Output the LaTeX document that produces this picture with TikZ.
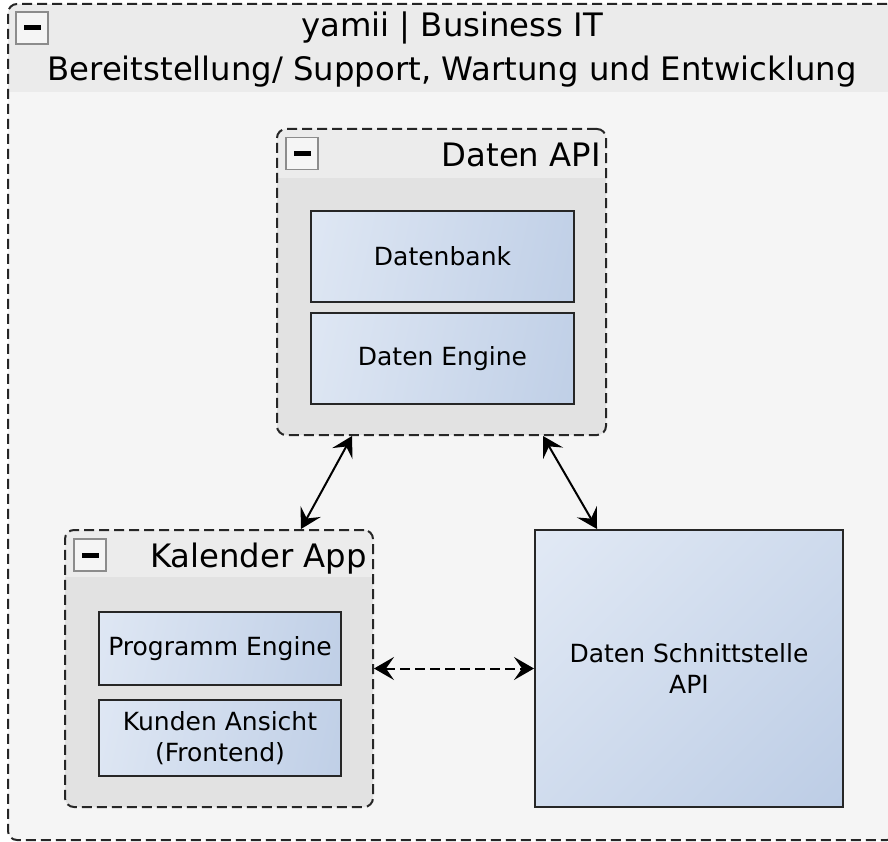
\documentclass[tikz,border=0pt]{standalone}
\usepackage{fontspec}
\setmainfont{DejaVu Sans}
\usepackage{tikz}
\usetikzlibrary{arrows.meta}
\usetikzlibrary{positioning}
\definecolor{outerbody}{HTML}{F5F5F5}
\definecolor{outerhead}{HTML}{EBEBEB}
\definecolor{groupbody}{HTML}{E2E2E2}
\definecolor{grouphead}{HTML}{ECECEC}
\definecolor{nodelight}{HTML}{E9EFF8}
\definecolor{nodedark}{HTML}{B5C7E2}
\pgfdeclareverticalshading[nodelight,nodedark]{itemshade}{100bp}{color(0bp)=(nodedark); color(100bp)=(nodelight)}
\newcommand{\gnode}[3]{\node(#1)[item, minimum width=#2] at #3}

\begin{document}
\begin{tikzpicture}[
        x=1pt, y=-1pt,
        every node/.style={font=\fontsize{25}{31}\selectfont},
        group/.style n args={3}{rectangle, draw=black!85, line width=2pt,
                     dash pattern=on 10pt off 5pt, rounded corners=9pt, fill=#2,
                     path picture={\fill[#3, sharp corners] (path picture bounding box.north west)
                       rectangle ([yshift=-#1]path picture bounding box.north east);}},
        item/.style={rectangle, draw=black!85, line width=2pt, inner sep=0pt,
                     shading=itemshade, shading angle=78, align=center},
        minus/.style={rectangle, draw=black!45, fill=black!4, line width=1.2pt,
                     minimum size=32pt, inner sep=0pt,
                     path picture={\fill[black] ([xshift=-8.5pt,yshift=-2.5pt]path picture bounding box.center)
                       rectangle ([xshift=8.5pt,yshift=2.5pt]path picture bounding box.center);}},
        title/.style={font=\fontsize{32.3}{44}\selectfont, inner sep=0pt},
        conn/.style={line width=2pt, <->},
        >={Stealth[length=20pt, width=23pt, inset=8pt]}
      ]
      \clip (0,0) rectangle (888,842);

      % outer group
      \node(business)[group={88pt}{outerbody}{outerhead}, minimum width=888pt, minimum height=836pt] at (452,422) {};
      \node(businessminus)[minus] at (32,28) {};
      \node(businesstitle)[title, align=center] at (452,50) {yamii | Business IT\\Bereitstellung/ Support, Wartung und Entwicklung};

      % Daten API
      \node(datenapi)[group={49pt}{groupbody}{grouphead}, minimum width=329pt, minimum height=306pt] at (441.5,282) {};
      \node(datenapiminus)[minus] at (302,153.5) {};
      \node(datenapititle)[title, anchor=base east] at (601,167) {Daten API};
      \gnode{datenbank}{263pt}{(442.5,256.5)} [minimum height=91pt] {Datenbank};
      \gnode{datenengine}{263pt}{(442.5,358.5)} [minimum height=91pt] {Daten Engine};

      % Kalender App
      \node(kalender)[group={47pt}{groupbody}{grouphead}, minimum width=308pt, minimum height=277pt] at (219,668.5) {};
      \node(kalenderminus)[minus] at (90,555) {};
      \node(kalendertitle)[title, anchor=base east] at (367,567) {Kalender App};
      \gnode{programm}{242pt}{(220,648.5)} [minimum height=73pt] {Programm Engine};
      \gnode{kunden}{242pt}{(220,738)} [minimum height=76pt] {Kunden Ansicht\\(Frontend)};

      % Schnittstelle
      \gnode{schnittstelle}{308pt}{(689,668.5)} [minimum height=277pt, shading angle=45] {Daten Schnittstelle\\API};

      \draw[conn] ([xshift=76pt]datenapi.south west) -- ([xshift=-73pt]kalender.north east);
      \draw[conn] ([xshift=-64pt]datenapi.south east) -- ([xshift=63pt]schnittstelle.north west);
      \draw[conn, dash pattern=on 10pt off 5pt] (kalender.east) -- (schnittstelle.west);
    \end{tikzpicture}
\end{document}
